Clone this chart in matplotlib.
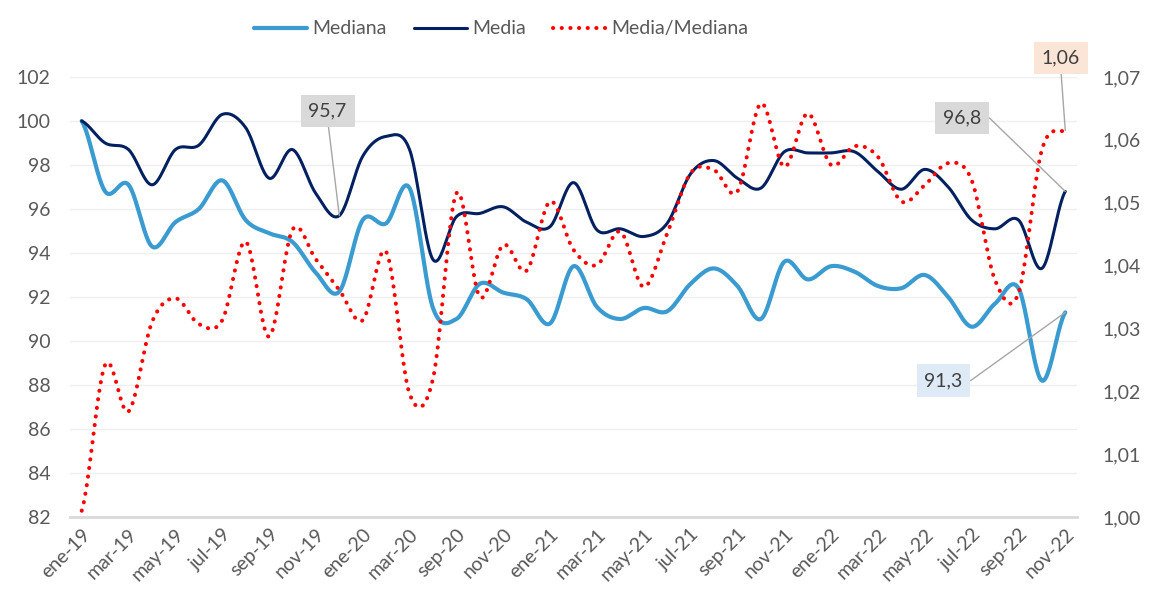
import numpy as np
import matplotlib
matplotlib.use("Agg")
import matplotlib.pyplot as plt
from matplotlib.ticker import FuncFormatter

plt.rcParams['font.family'] = ['Lato', 'DejaVu Sans']

# monthly categories (abr-jul 2020 are missing in the source)
months = ["ene-19", "feb-19", "mar-19", "abr-19", "may-19", "jun-19", "jul-19", "ago-19",
          "sep-19", "oct-19", "nov-19", "dic-19", "ene-20", "feb-20", "mar-20", "ago-20",
          "sep-20", "oct-20", "nov-20", "dic-20", "ene-21", "feb-21", "mar-21", "abr-21",
          "may-21", "jun-21", "jul-21", "ago-21", "sep-21", "oct-21", "nov-21", "dic-21",
          "ene-22", "feb-22", "mar-22", "abr-22", "may-22", "jun-22", "jul-22", "ago-22",
          "sep-22", "oct-22", "nov-22"]

mediana = [100.0, 96.8, 97.1, 94.3, 95.4, 96.0, 97.3, 95.5, 94.9, 94.5, 93.1, 92.25,
           95.5, 95.35, 96.95, 91.5, 91.0, 92.6, 92.2, 91.9, 90.8, 93.4, 91.55, 91.0,
           91.5, 91.35, 92.6, 93.3, 92.5, 91.0, 93.6, 92.8, 93.4, 93.15, 92.5, 92.4,
           93.0, 92.0, 90.65, 91.7, 92.4, 88.2, 91.3]

media = [100.0, 99.0, 98.7, 97.1, 98.7, 98.9, 100.3, 99.7, 97.4, 98.7, 96.7, 95.7,
         98.4, 99.3, 98.7, 93.7, 95.65, 95.8, 96.1, 95.4, 95.2, 97.2, 95.05, 95.1,
         94.75, 95.35, 97.6, 98.2, 97.4, 96.95, 98.6, 98.55, 98.55, 98.6, 97.7, 96.9,
         97.8, 97.0, 95.5, 95.1, 95.5, 93.3, 96.8]

ratio = [1.001, 1.0242, 1.0168, 1.031, 1.0348, 1.0307, 1.0313, 1.0438, 1.0287, 1.0457,
         1.041, 1.0361, 1.0313, 1.0422, 1.0196, 1.022, 1.0515, 1.035, 1.0433, 1.0392,
         1.0502, 1.0425, 1.0401, 1.0454, 1.0366, 1.0451, 1.0547, 1.0552, 1.0518, 1.0658,
         1.0557, 1.0642, 1.056, 1.059, 1.0573, 1.0502, 1.0528, 1.0563, 1.0536, 1.0377,
         1.0356, 1.0584, 1.0615]


def smooth(vals, n=24):
    # Excel-like smoothed line (Catmull-Rom through the points)
    v = np.asarray(vals, dtype=float)
    p = np.concatenate([[v[0]], v, [v[-1]]])
    xs, ys = [], []
    t = np.linspace(0, 1, n, endpoint=False)
    for i in range(len(v) - 1):
        p0, p1, p2, p3 = p[i], p[i + 1], p[i + 2], p[i + 3]
        ys.append(0.5 * (2 * p1 + (-p0 + p2) * t + (2 * p0 - 5 * p1 + 4 * p2 - p3) * t ** 2
                         + (-p0 + 3 * p1 - 3 * p2 + p3) * t ** 3))
        xs.append(i + t)
    xs.append([len(v) - 1])
    ys.append([v[-1]])
    return np.concatenate(xs), np.concatenate(ys)


grey = '#595959'
fig = plt.figure(figsize=(11.5, 5.96), dpi=100)
ax = fig.add_axes([70 / 1150, 79 / 596, 1007 / 1150, 440 / 596])
ax2 = ax.twinx()

x1, y1 = smooth(mediana)
l1, = ax.plot(x1, y1, color='#3A9BD0', lw=3.0, solid_capstyle='round', label='Mediana')
x2, y2 = smooth(media)
l2, = ax.plot(x2, y2, color='#002060', lw=2.2, solid_capstyle='round', label='Media')
x3, y3 = smooth(ratio)
l3, = ax2.plot(x3, y3, color='#FF0000', lw=2.9, linestyle=(0, (0.05, 2.1)),
               dash_capstyle='round', label='Media/Mediana')

ax.set_xlim(-0.5, len(months) - 0.5)
ax.set_ylim(82, 102)
ax.set_yticks(np.arange(82, 103, 2))
ax2.set_ylim(1.0, 1.07)
ax2.set_yticks(np.arange(1.0, 1.0701, 0.01))
ax2.yaxis.set_major_formatter(FuncFormatter(lambda v, p: f"{v:.2f}".replace('.', ',')))

ax.set_xticks(range(0, len(months), 2))
ax.set_xticklabels(months[::2], rotation=45, ha='right', rotation_mode='anchor')

ax.grid(axis='y', color='#EFEFEF', lw=1)
ax.set_axisbelow(True)
for a in (ax, ax2):
    for s in a.spines.values():
        s.set_visible(False)
    a.tick_params(length=0, colors=grey, labelsize=14)
ax.spines['bottom'].set_visible(True)
ax.spines['bottom'].set_color('#D9D9D9')
ax.spines['bottom'].set_linewidth(2)
ax.tick_params(axis='x', labelsize=14, pad=6)
ax.tick_params(axis='y', pad=14)
ax2.tick_params(axis='y', pad=18)

# data labels
kw = dict(fontsize=14, color='#404040', ha='center', va='center', annotation_clip=False)
ax.annotate("95,7", xy=(11, media[11]), xytext=(10.5, 100.45),
            bbox=dict(boxstyle='square,pad=0.4', fc='#D9D9D9', ec='none'),
            arrowprops=dict(arrowstyle='-', color='#A6A6A6', lw=1, shrinkA=0, shrinkB=0,
                            relpos=(0.5, 0)), **kw)
ax.annotate("96,8", xy=(42, media[42]), xytext=(37.6, 100.14),
            bbox=dict(boxstyle='square,pad=0.4', fc='#D9D9D9', ec='none'),
            arrowprops=dict(arrowstyle='-', color='#A6A6A6', lw=1, shrinkA=0, shrinkB=0,
                            relpos=(1, 0.5),
                            connectionstyle='arc,angleA=0,angleB=0,armA=8,armB=0,rad=0'), **kw)
ax.annotate("91,3", xy=(42, mediana[42]), xytext=(36.8, 88.2),
            bbox=dict(boxstyle='square,pad=0.4', fc='#DEEBF7', ec='none'),
            arrowprops=dict(arrowstyle='-', color='#A6A6A6', lw=1, shrinkA=0, shrinkB=0,
                            relpos=(1, 0.5),
                            connectionstyle='arc,angleA=0,angleB=0,armA=8,armB=0,rad=0'), **kw)
ax2.annotate("1,06", xy=(42, ratio[42]), xytext=(41.8, 1.073),
             bbox=dict(boxstyle='square,pad=0.4', fc='#FBE5D6', ec='none'),
             arrowprops=dict(arrowstyle='-', color='#A6A6A6', lw=1, shrinkA=0, shrinkB=0,
                             relpos=(0.5, 0)), **kw)

fig.legend(handles=[l1, l2, l3], loc='upper center', bbox_to_anchor=(0.436, 0.995), ncol=3,
           frameon=False, fontsize=14, labelcolor=grey, handlelength=2.7,
           handletextpad=0.3, columnspacing=1.4)

fig.savefig('out.png', dpi=100)
